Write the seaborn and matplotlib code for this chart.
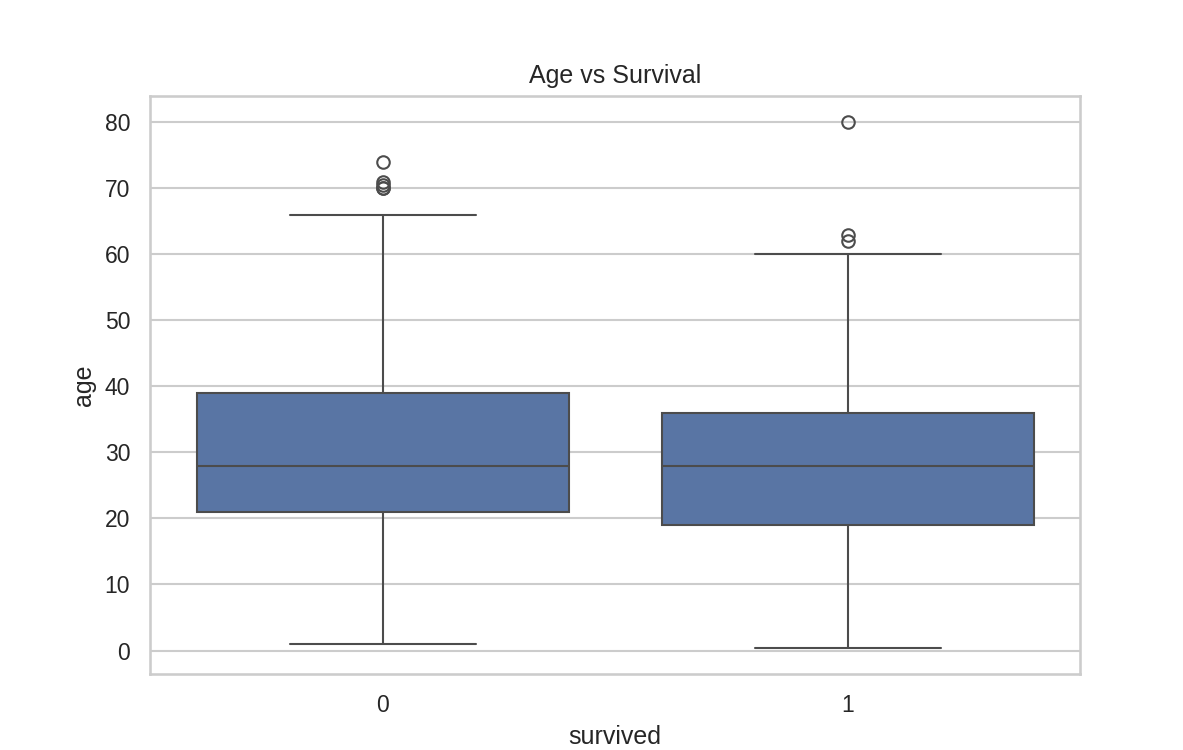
import pandas as pd
import numpy as np
import matplotlib
matplotlib.use("Agg")
import matplotlib.pyplot as plt
import seaborn as sns

# AGES PER GROUP (quartiles, whiskers, outliers)
ages_died = [1, 4, 9, 16, 18, 19, 21, 22, 24, 25, 26, 27, 28,
             29, 30, 32, 35, 37, 39, 66, 70, 70, 70.5, 71, 74]
ages_survived = [0.42, 3, 6, 14, 17, 19, 22, 24, 25, 27, 28,
                 30, 31, 33, 35, 36, 45, 60, 62, 63, 80]

df = pd.DataFrame({
    "survived": ["0"] * len(ages_died) + ["1"] * len(ages_survived),
    "age": ages_died + ages_survived,
})

sns.set_theme(style="whitegrid")
plt.rcParams["font.family"] = ["Liberation Sans", "DejaVu Sans"]

fig = plt.figure(figsize=(1183 / 150, 5), dpi=150)
ax = fig.add_axes([150 / 1183, 1 - 674 / 750, 930 / 1183, 578 / 750])

sns.boxplot(data=df, x="survived", y="age", ax=ax)

ax.set_title("Age vs Survival")
ax.set_xlabel("survived")
ax.set_ylabel("age")

fig.savefig("out.png", dpi=150)
